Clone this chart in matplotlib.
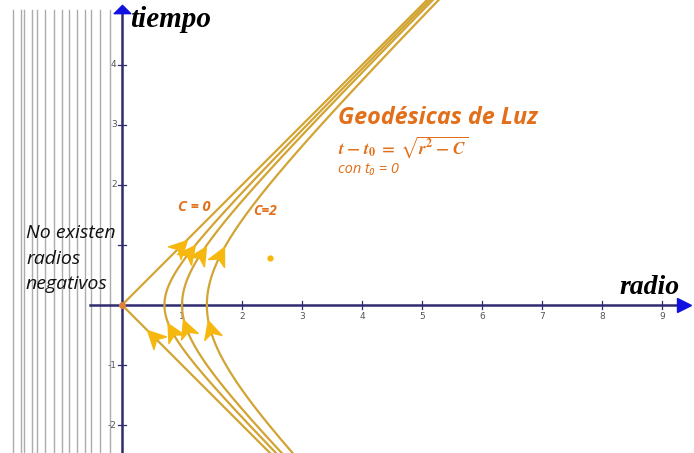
import numpy as np
import matplotlib
matplotlib.use("Agg")
import matplotlib.pyplot as plt
from matplotlib.path import Path
from matplotlib.markers import MarkerStyle
from matplotlib.transforms import Affine2D

# Light geodesics t - t0 = ±sqrt(r^2 - C)
c_values = [0.0, 0.5, 1.0, 2.0]
arrow_t_upper = [0.95, 0.85, 0.82, 0.80]
arrow_t_lower = [-0.55, -0.47, -0.42, -0.43]

x_ticks = [1, 2, 3, 4, 5, 6, 7, 8, 9]
x_tick_labels = ["1", "2", "3", "4", "5", "6", "7", "8", "9"]
y_ticks = [-2, -1, 1, 2, 3, 4]
y_tick_labels = ["-2", "-1", "", "2", "3", "4"]

# vertical hatching over the forbidden region r < 0
hatch_r = [-1.82, -1.69, -1.64, -1.50, -1.42, -1.28, -1.13, -1.00,
           -0.89, -0.75, -0.61, -0.51, -0.37, -0.20]

stray_point = (2.47, 0.78)

curve_color = "#d2a433"
arrow_color = "#f6b70f"
orange = "#e2701a"
axis_color = "#2e2c6e"
arrow_blue = "#1010e0"

fig = plt.figure(figsize=(6.94, 4.53), dpi=100)
ax = fig.add_axes([0, 0, 1, 1])
xmin, xmax = -122 / 60, (694 - 122) / 60
ymin, ymax = -(453 - 305) / 60, 305 / 60
ax.set_xlim(xmin, xmax)
ax.set_ylim(ymin, ymax)
ax.axis("off")

# hatching
for r in hatch_r:
    ax.plot([r, r], [ymin, 4.92], color="#acacac", lw=1.0, zorder=1)

# axes
ax.plot([0, 0], [ymin, 4.85], color=axis_color, lw=1.8, zorder=3)
ax.plot([-0.53, 9.3], [0, 0], color=axis_color, lw=1.8, zorder=3)
up_tri = Path([(-1.0, -0.5), (1.0, -0.5), (0.0, 0.5), (-1.0, -0.5)],
              [Path.MOVETO, Path.LINETO, Path.LINETO, Path.CLOSEPOLY])
ax.plot([0], [4.93], marker=up_tri, ms=12, color=arrow_blue, zorder=4, clip_on=False)
ax.plot([9.36], [0], marker=">", ms=10, color=arrow_blue, zorder=4, clip_on=False)

# ticks
for xv, lab in zip(x_ticks, x_tick_labels):
    ax.plot([xv, xv], [-0.07, 0.07], color=axis_color, lw=0.9, zorder=3)
    ax.text(xv, -0.19, lab, ha="center", va="center", fontsize=6.5, color="#555555")
for yv, lab in zip(y_ticks, y_tick_labels):
    ax.plot([-0.07, 0.07], [yv, yv], color=axis_color, lw=0.9, zorder=3)
    ax.text(-0.09, yv, lab, ha="right", va="center", fontsize=6.5, color="#555555")

# geodesic curves
t = np.linspace(ymin - 0.2, ymax + 0.2, 800)
for C in c_values:
    r = np.sqrt(t ** 2 + C)
    ax.plot(r, t, color=curve_color, lw=1.6, zorder=5)

# chevron arrow heads along the direction of increasing t
chevron = Path([(1.0, 0.0), (-0.6, 0.8), (-0.15, 0.0), (-0.6, -0.8), (1.0, 0.0)],
               [Path.MOVETO, Path.LINETO, Path.LINETO, Path.LINETO, Path.CLOSEPOLY])
for C, tu, tl in zip(c_values, arrow_t_upper, arrow_t_lower):
    for tt in (tu, tl):
        rr = np.sqrt(tt ** 2 + C)
        ang = np.degrees(np.arctan2(1.0, tt / rr))
        m = MarkerStyle(chevron, transform=Affine2D().rotate_deg(ang))
        ax.plot([rr], [tt], marker=m, ms=16, color=arrow_color, mec=arrow_color,
                mew=1.0, zorder=6)

ax.plot([0], [0], marker="o", ms=4, color="#e08040", zorder=7)
ax.plot([stray_point[0]], [stray_point[1]], marker="o", ms=3.5, color=arrow_color, zorder=7)

# labels
serif_bi = dict(family=["Liberation Serif", "DejaVu Serif"], weight="bold", style="italic")
ax.text(0.13, 4.75, "tiempo", fontsize=21, ha="left", va="center", **serif_bi)
ax.text(9.3, 0.30, "radio", fontsize=20, ha="right", va="center", **serif_bi)

sans = ["Open Sans", "DejaVu Sans"]
ax.text(3.6, 3.12, "Geodésicas de Luz", fontsize=16.8, ha="left", va="center",
        color=orange, weight="bold", style="italic", family=sans)
plt.rcParams["mathtext.fontset"] = "stix"
ax.text(3.6, 2.64, r"$\mathbfit{t}\;\mathbf{-}\;\mathbfit{t}_\mathbf{0}\;\mathbf{=}\;\sqrt{\mathbfit{r}^\mathbf{2}\;\mathbf{-}\;\mathbfit{C}}$",
        fontsize=12.5, ha="left", va="center", color=orange)
ax.text(3.6, 2.25, "con t₀ = 0", fontsize=10.5, ha="left", va="center",
        color=orange, style="italic", family=sans)

ax.text(0.93, 1.63, "C = 0", fontsize=10.5, ha="left", va="center", color=orange,
        weight="bold", style="italic", family=sans)
ax.text(2.18, 1.57, "C=2", fontsize=10, ha="left", va="center", color=orange,
        weight="bold", style="italic", family=sans)

for yy, s in zip([1.20, 0.77, 0.35], ["No existen", "radios", "negativos"]):
    ax.text(-1.6, yy, s, fontsize=14, ha="left", va="center", color="#111111",
            style="italic", family=sans, zorder=8)

fig.savefig("out.png", dpi=100)
